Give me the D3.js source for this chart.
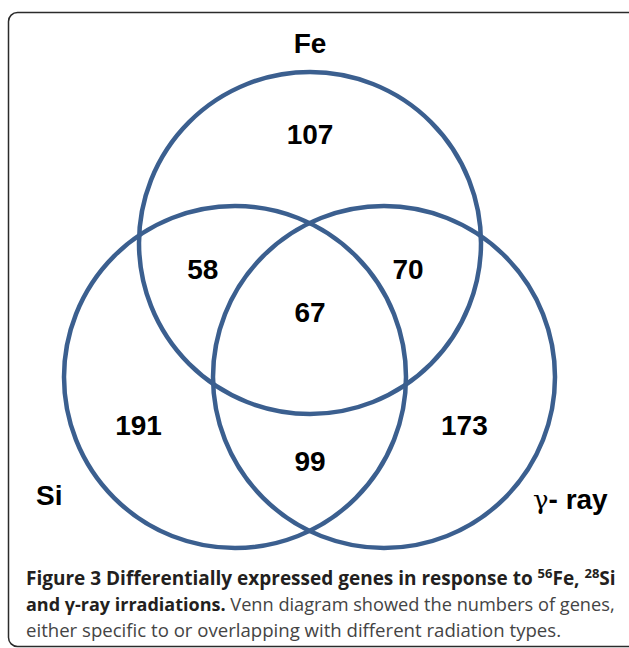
<!DOCTYPE html>
<html><head><meta charset="utf-8">
<script src="https://cdn.jsdelivr.net/npm/d3@7/dist/d3.min.js"></script>
<style>body{margin:0;background:#fff}svg{display:block}</style>
</head><body>
<script>
// ---- data ----
const setNames = ["Fe", "Si", "γ-ray"];
const regionKeys = ["Fe", "Fe∩Si", "Fe∩γ", "Fe∩Si∩γ", "Si", "γ", "Si∩γ"];
const regionValues = [107, 58, 70, 67, 191, 173, 99];
const captionBold1 = "Figure 3 Differentially expressed genes in response to ";
const captionLine3 = "either specific to or overlapping with different radiation types.";

// ---- layout ----
const W = 629, H = 648;
const svg = d3.select("body").append("svg").attr("width", W).attr("height", H);

// frame
svg.append("rect").attr("x", 8.5).attr("y", 12.5).attr("width", 630).attr("height", 634)
  .attr("rx", 9).attr("fill", "none").attr("stroke", "#2b2b2b").attr("stroke-width", 1.5);

// geometric layout of circles in venn units
const x = d3.scaleLinear().domain([-1, 1]).range([310 - 171, 310 + 171]);
const y = d3.scaleLinear().domain([-1, 1]).range([243 - 171, 243 + 171]);
const r = 171;
const centers = {
  "Fe": [0, 0],
  "Si": [-75 / 171, 134 / 171],
  "γ-ray": [74 / 171, 134 / 171]
};
const blue = "#3b5f8f";
svg.append("g").selectAll("circle").data(setNames).join("circle")
  .attr("cx", d => x(centers[d][0])).attr("cy", d => y(centers[d][1]))
  .attr("r", r).attr("fill", "none").attr("stroke", blue).attr("stroke-width", 4.5);

// region label positions (venn units)
const regionPos = {
  "Fe": [0, -0.58],
  "Fe∩Si": [-0.627, 0.21],
  "Fe∩γ": [0.573, 0.21],
  "Fe∩Si∩γ": [0, 0.46],
  "Si": [-1.003, 1.12],
  "γ": [0.903, 1.12],
  "Si∩γ": [0, 1.336]
};
svg.append("g").selectAll("text").data(regionKeys).join("text")
  .attr("x", (d) => x(regionPos[d][0]))
  .attr("y", (d) => y(regionPos[d][1]))
  .attr("text-anchor", "middle")
  .attr("font-family", "Liberation Sans, Arial, sans-serif")
  .attr("font-weight", "bold").attr("font-size", 28).attr("fill", "#000")
  .text((d, i) => regionValues[i]);

// set labels
const lab = svg.append("g").attr("font-family", "Liberation Sans, Arial, sans-serif")
  .attr("font-weight", "bold").attr("font-size", 28).attr("fill", "#000");
lab.append("text").attr("x", 310).attr("y", 53).attr("text-anchor", "middle").text(setNames[0]);
lab.append("text").attr("x", 36).attr("y", 505).text(setNames[1]);
const g = lab.append("text").attr("x", 533).attr("y", 509);
g.append("tspan").attr("font-weight", "normal").attr("font-family", "DejaVu Serif, serif").attr("font-size", 26).text("γ");
g.append("tspan").text("- ray");

// caption
const cap = svg.append("g").attr("font-family", "Open Sans, sans-serif").attr("fill", "#231f20").attr("font-size", 18.2);
const l1 = cap.append("text").attr("x", 26).attr("y", 585).attr("font-weight", "bold").attr("font-size", 19);
l1.append("tspan").text(captionBold1);
l1.append("tspan").attr("font-size", 13).attr("dy", -7).text("56");
l1.append("tspan").attr("dy", 7).text("Fe, ");
l1.append("tspan").attr("font-size", 13).attr("dy", -7).text("28");
l1.append("tspan").attr("dy", 7).text("Si");
const l2 = cap.append("text").attr("x", 26).attr("y", 611);
l2.append("tspan").attr("font-weight", "bold").attr("font-size", 18).text("and γ-ray irradiations.");
l2.append("tspan").attr("fill", "#444").text(" Venn diagram showed the numbers of genes,");
cap.append("text").attr("x", 26).attr("y", 637).attr("fill", "#444").attr("font-size", 18.6).text(captionLine3);
</script>
</body></html>
